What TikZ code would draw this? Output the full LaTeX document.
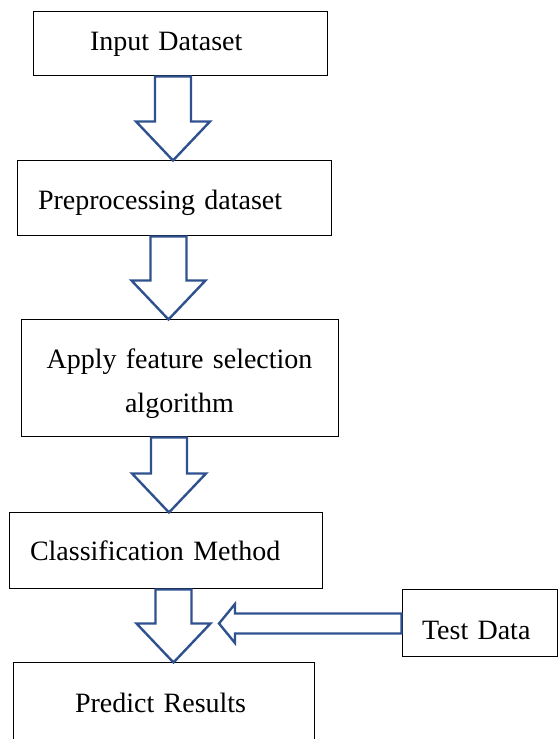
\documentclass[tikz,border=0pt]{standalone}
\usepackage{fontspec}
\setmainfont{Liberation Serif}
\usetikzlibrary{calc}

\definecolor{arrowblue}{RGB}{47,82,143}
\newcommand{\boxfont}{\fontsize{28}{44}\selectfont}
% hollow down arrow from the bottom of one box to the top of the next
\newcommand{\blockdown}[3]{%
  \draw[blockarrow] let \p1=(#1.south), \p2=(#2.north) in
    (#3pt-18pt,\y1) -- (#3pt+18pt,\y1) -- (#3pt+18pt,\y2+39pt)
    -- (#3pt+37pt,\y2+39pt) -- (#3pt,\y2) -- (#3pt-37pt,\y2+39pt)
    -- (#3pt-18pt,\y2+39pt) -- cycle;
}

\begin{document}
\begin{tikzpicture}[%
    x=1pt,
    y=1pt,
    box/.style={draw, line width=1pt, align=left, font=\boxfont},
    blockarrow/.style={draw=arrowblue, fill=white, line width=2.4pt, line join=miter}
    ]
    \useasboundingbox (0,0) rectangle (559,739);

    \node[box, text width=180pt, inner xsep=57pt, minimum height=64pt] (input) at (180,695) {Input Dataset};
    \node[box, text width=272pt, inner xsep=21pt, minimum height=75pt, text height=29pt] (prep) at (174,540.5) {Preprocessing dataset};
    \node[box, align=center, text width=297pt, inner xsep=10pt, minimum height=117pt, text height=31pt] (select) at (179.5,360.5) {Apply feature selection\\algorithm};
    \node[box, text width=271pt, inner xsep=21pt, minimum height=76pt] (classify) at (165.5,188) {Classification Method};
    \node[box, text width=115pt, inner xsep=20pt, minimum height=67pt, text height=32.5pt] (test) at (479.5,115.5) {Test Data};
    \node[box, text width=177pt, inner xsep=62pt, minimum height=80pt] (predict) at (163.5,36) {Predict Results};

    \blockdown{input}{prep}{173}
    \blockdown{prep}{select}{168.5}
    \blockdown{select}{classify}{169}
    \blockdown{classify}{predict}{173.5}

    % side arrow from the test data
    \coordinate (meet) at (219,117);
    \draw[blockarrow] let \p1=(test.west), \p2=(meet) in
      (\x1,\y1+10pt) -- (\x2+16pt,\y1+10pt) -- (\x2+16pt,\y1+19.5pt)
      -- (\x2,\y1) -- (\x2+16pt,\y1-19.5pt) -- (\x2+16pt,\y1-10pt)
      -- (\x1,\y1-10pt) -- cycle;

\end{tikzpicture}
\end{document}
